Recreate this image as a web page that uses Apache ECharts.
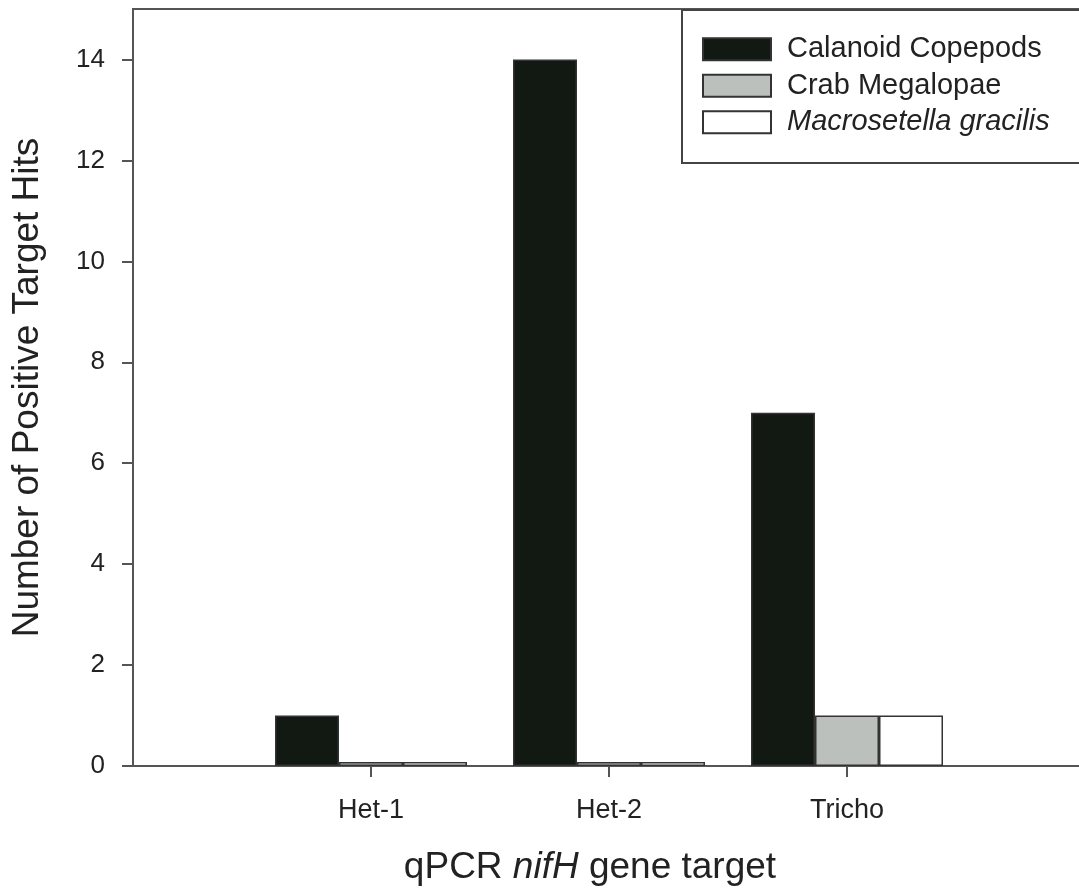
<!DOCTYPE html>
<html>
<head>
<meta charset="utf-8">
<script src="https://cdn.jsdelivr.net/npm/echarts@6/dist/echarts.min.js"></script>
<style>
  html, body { margin: 0; padding: 0; background: #fff; }
  #chart { width: 1079px; height: 892px; }
</style>
</head>
<body>
<div id="chart"></div>
<script>
// qPCR nifH targets and positive hit counts per zooplankton group
const targets = ['Het-1', 'Het-2', 'Tricho'];
const calanoidCopepods = [1, 14, 7];
const crabMegalopae = [0.08, 0.08, 1];
const macrosetellaGracilis = [0.08, 0.08, 1];
const yTicks = [0, 2, 4, 6, 8, 10, 12, 14];

// one empty slot on each side so the groups sit one band in from the axes
const cats = [''].concat(targets, [' ']);
const pad = arr => [null].concat(arr, [null]);

const FONT = '"Liberation Sans", Arial, sans-serif';
const INK = '#222';
const AXIS = '#555';

const chart = echarts.init(document.getElementById('chart'), null, { renderer: 'canvas' });

const barStyle = (fill) => ({ color: fill, borderColor: '#333', borderWidth: 1.5 });

chart.setOption({
  animation: false,
  textStyle: { fontFamily: FONT, color: INK },
  grid: {
    left: 133, top: 9, width: 952, height: 757,
    outerBoundsMode: 'none',
    containLabel: false,
    show: true, borderColor: AXIS, borderWidth: 2, backgroundColor: 'transparent'
  },
  // legend frame, running off the right edge like the plot frame
  graphic: [{
    type: 'rect',
    left: 681, top: 9, z: 15,
    shape: { width: 460, height: 153 },
    style: { fill: '#fff', stroke: '#444', lineWidth: 2 }
  }],
  legend: {
    orient: 'vertical',
    left: 702, top: 32,
    padding: 0,
    itemWidth: 68, itemHeight: 22, itemGap: 2,
    icon: 'rect',
    z: 20,
    textStyle: { fontFamily: FONT, fontSize: 29, color: INK, padding: [0, 0, 0, 11], lineHeight: 34.5 },
    data: [
      { name: 'Calanoid Copepods' },
      { name: 'Crab Megalopae' },
      { name: 'Macrosetella gracilis', textStyle: { fontStyle: 'italic' } }
    ]
  },
  xAxis: {
    type: 'category',
    data: cats,
    boundaryGap: false,
    axisLine: { show: true, lineStyle: { color: AXIS, width: 2 } },
    axisTick: {
      show: true, length: 11,
      interval: (i) => i >= 1 && i <= targets.length,
      lineStyle: { color: AXIS, width: 2 }
    },
    axisLabel: { interval: 0, margin: 31, fontSize: 27, color: INK, fontFamily: FONT },
    splitLine: { show: false },
    name: '{a|qPCR }{i|nifH}{a| gene target}',
    nameLocation: 'middle',
    nameGap: 83,
    nameTextStyle: {
      padding: [0, 38, 0, 0],
      rich: {
        a: { fontSize: 37, color: INK, fontFamily: FONT },
        i: { fontSize: 37, color: INK, fontFamily: FONT, fontStyle: 'italic' }
      }
    }
  },
  yAxis: {
    type: 'value',
    min: 0, max: 15, interval: 2,
    axisLine: { show: true, lineStyle: { color: AXIS, width: 2 } },
    axisTick: { show: true, length: 11, customValues: yTicks, lineStyle: { color: AXIS, width: 2 } },
    axisLabel: { customValues: yTicks, margin: 28, fontSize: 26, color: INK, fontFamily: FONT },
    splitLine: { show: false },
    name: 'Number of Positive Target Hits',
    nameLocation: 'middle',
    nameGap: 87,
    nameTextStyle: { fontSize: 37, color: INK, fontFamily: FONT }
  },
  series: [
    {
      name: 'Calanoid Copepods', type: 'bar', data: pad(calanoidCopepods),
      barWidth: 64, barGap: '0%', itemStyle: barStyle('#121812')
    },
    {
      name: 'Crab Megalopae', type: 'bar', data: pad(crabMegalopae),
      barWidth: 64, barGap: '0%', itemStyle: barStyle('#bcc0bc')
    },
    {
      name: 'Macrosetella gracilis', type: 'bar', data: pad(macrosetellaGracilis),
      barWidth: 64, barGap: '0%', itemStyle: barStyle('#ffffff')
    }
  ]
});
</script>
</body>
</html>
